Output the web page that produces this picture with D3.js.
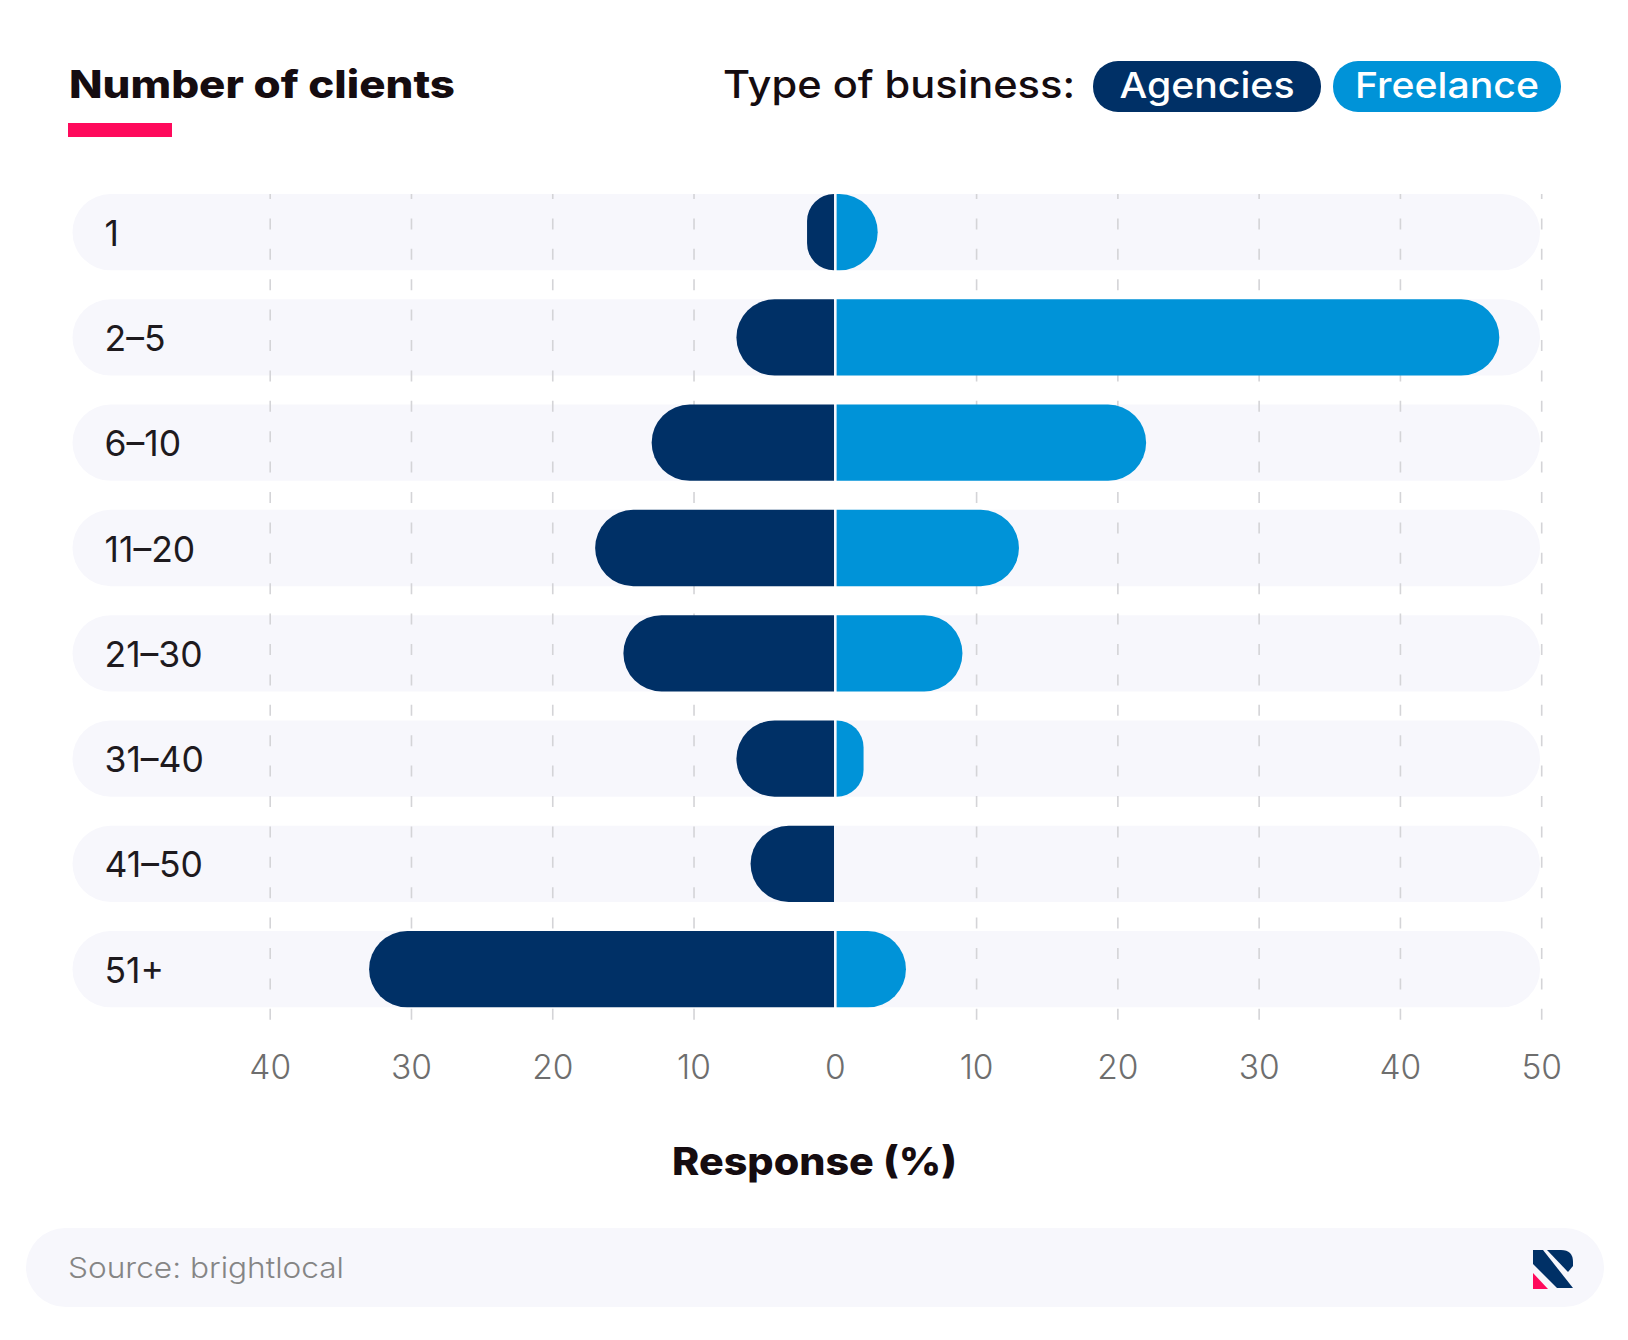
<!DOCTYPE html>
<html>
<head>
<meta charset="utf-8">
<script src="https://cdnjs.cloudflare.com/ajax/libs/d3/7.8.5/d3.min.js"></script>
<style>
  html, body { margin: 0; padding: 0; background: #fff; }
  svg { display: block; }
  text { font-family: Inter, "Noto Sans", sans-serif; }
</style>
</head>
<body>
<div id="chart"></div>
<script>
// values
const categories = ["1", "2–5", "6–10", "11–20", "21–30", "31–40", "41–50", "51+"];
const agencies = [2, 7, 13, 17, 15, 7, 6, 33];
const freelance = [3, 47, 22, 13, 9, 2, 0, 5];
const xTicks = [-40, -30, -20, -10, 0, 10, 20, 30, 40, 50];

const navy = "#003066";
const blue = "#0093d8";
const track = "#f7f7fc";
const ink = "#150c10";

const width = 1628, height = 1340;
const svg = d3.select("#chart").append("svg")
  .attr("width", width)
  .attr("height", height);

const x = d3.scaleLinear().domain([-40, 50]).range([270.2, 1541.7]);
const y = d3.scaleBand().domain(categories).range([194, 1007.3]).paddingInner(0.2754);
const gap = 1.3; // white seam at zero
const barR = y.bandwidth() / 2;

// Rows
svg.append("g").selectAll("rect")
  .data(categories)
  .join("rect")
  .attr("x", 72.5)
  .attr("y", d => y(d))
  .attr("width", 1540 - 72.5)
  .attr("height", y.bandwidth())
  .attr("rx", barR)
  .attr("fill", track);

// Gridlines
svg.append("g").selectAll("line")
  .data(xTicks.filter(d => d !== 0))
  .join("line")
  .attr("x1", d => x(d))
  .attr("x2", d => x(d))
  .attr("y1", 194)
  .attr("y2", 1022)
  .attr("stroke", "#d4d4d7")
  .attr("stroke-width", 1.6)
  .attr("stroke-dasharray", "11 19.4")
  .attr("stroke-dashoffset", 6);

// Bar with one rounded outer end
function barPath(v, i, dir) {
  const x0 = x(0) + dir * gap;
  const x1 = x(dir * v);
  const top = y(categories[i]), h = y.bandwidth();
  const r = Math.min(barR, Math.abs(x1 - x0));
  const p = d3.path();
  p.moveTo(x0, top);
  p.lineTo(x1 - dir * r, top);
  p.arcTo(x1, top, x1, top + r, r);
  p.lineTo(x1, top + h - r);
  p.arcTo(x1, top + h, x1 - dir * r, top + h, r);
  p.lineTo(x0, top + h);
  p.closePath();
  return p.toString();
}

svg.append("g").selectAll("path")
  .data(agencies)
  .join("path")
  .attr("d", (d, i) => barPath(d, i, -1))
  .attr("fill", navy);

svg.append("g").selectAll("path")
  .data(freelance.map((v, i) => ({ v, i })).filter(d => d.v > 0))
  .join("path")
  .attr("d", d => barPath(d.v, d.i, 1))
  .attr("fill", blue);

// Category labels
svg.append("g").selectAll("text")
  .data(categories)
  .join("text")
  .attr("x", 104.5)
  .attr("y", d => y(d) + y.bandwidth() / 2 + 13.5)
  .attr("font-size", 35.5)
  .attr("font-weight", 400)
  .attr("fill", "#1e1a1e")
  .text(d => d);

// X axis
const axis = svg.append("g")
  .attr("transform", "translate(0,1079)")
  .call(d3.axisBottom(x).tickValues(xTicks).tickSize(0).tickPadding(0).offset(0).tickFormat(d => Math.abs(d)));
axis.select(".domain").remove();
axis.selectAll("text")
  .attr("y", 0)
  .attr("dy", 0)
  .attr("font-size", 33.5)
  .attr("font-weight", 300)
  .attr("font-family", "Inter")
  .attr("fill", "#6e6e6e");

// fonts run narrower than the original, so text is fitted to its measured width
function fit(sel, len) {
  return sel.attr("textLength", len).attr("lengthAdjust", "spacingAndGlyphs");
}

// Header
fit(svg.append("text")
  .attr("x", 69).attr("y", 98)
  .attr("font-size", 38).attr("font-weight", 800)
  .attr("fill", ink)
  .text("Number of clients"), 386);
svg.append("rect")
  .attr("x", 68).attr("y", 123)
  .attr("width", 104).attr("height", 14)
  .attr("fill", "#ff0a5c");

fit(svg.append("text")
  .attr("x", 723).attr("y", 98)
  .attr("font-size", 38).attr("font-weight", 500)
  .attr("fill", ink)
  .text("Type of business:"), 352);

// Legend pills
const legendNames = ["Agencies", "Freelance"];
const legendColors = [navy, blue];
const legendX = [1093, 1333];
const legendLen = [175, 184];
const legend = svg.append("g").selectAll("g")
  .data(legendNames)
  .join("g");
legend.append("rect")
  .attr("x", (d, i) => legendX[i])
  .attr("y", 61)
  .attr("width", 228)
  .attr("height", 51)
  .attr("rx", 25)
  .attr("fill", (d, i) => legendColors[i]);
legend.append("text")
  .attr("x", (d, i) => legendX[i] + 114)
  .attr("y", 98)
  .attr("text-anchor", "middle")
  .attr("font-size", 36)
  .attr("font-weight", 500)
  .attr("fill", "#fff")
  .attr("textLength", (d, i) => legendLen[i])
  .attr("lengthAdjust", "spacingAndGlyphs")
  .text(d => d);

// Axis title
fit(svg.append("text")
  .attr("x", 814.5).attr("y", 1175)
  .attr("text-anchor", "middle")
  .attr("font-size", 38).attr("font-weight", 800)
  .attr("fill", ink)
  .text("Response (%)"), 285);

// Source strip
svg.append("rect")
  .attr("x", 26).attr("y", 1228)
  .attr("width", 1578).attr("height", 79)
  .attr("rx", 39.5)
  .attr("fill", track);
fit(svg.append("text")
  .attr("x", 68).attr("y", 1278)
  .attr("font-size", 29).attr("font-weight", 300)
  .attr("fill", "#858585")
  .text("Source: brightlocal"), 276);

// Logo
const logo = svg.append("g");
logo.append("path").attr("d", "M1533 1250H1543L1573 1288H1557L1533 1264Z").attr("fill", navy);
logo.append("path").attr("d", "M1547 1250H1561Q1573 1250 1573 1262V1266L1568 1272Z").attr("fill", navy);
logo.append("path").attr("d", "M1533 1273L1548 1289H1533Z").attr("fill", "#ff0a5c");
</script>
</body>
</html>
